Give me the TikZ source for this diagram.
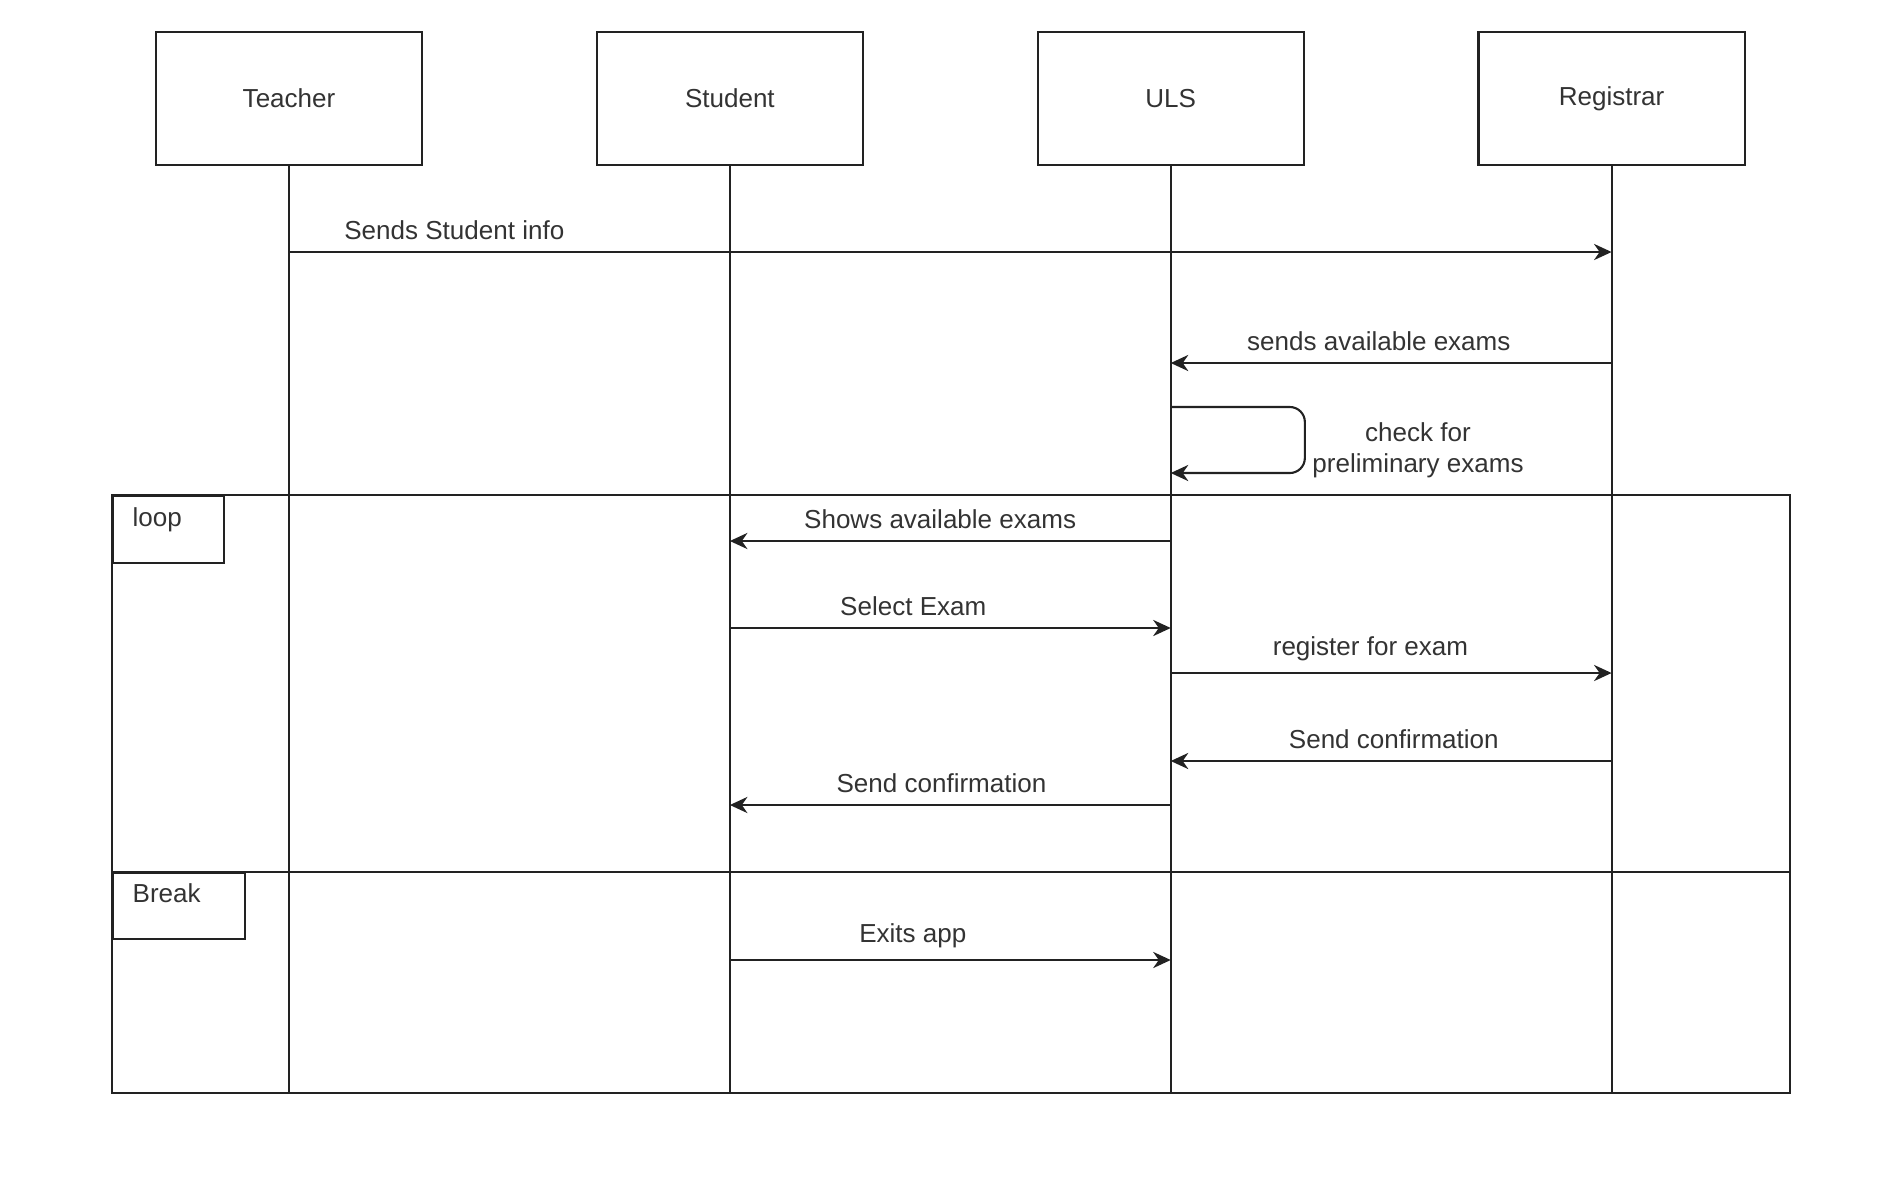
\documentclass[tikz,border=0pt]{standalone}
\usepackage{fontspec}
\setmainfont{Liberation Sans}
\usetikzlibrary{positioning,arrows.meta}

\definecolor{linecol}{HTML}{222222}
\definecolor{textcol}{HTML}{333333}

\tikzset{
  actor/.style={draw=linecol,line width=0.6pt,minimum width=2.66cm,minimum height=1.33cm,inner sep=0pt,text=textcol},
  lifeline/.style={draw=linecol,line width=0.6pt},
  msg/.style={draw=linecol,line width=0.6pt,-{Stealth[length=5pt,width=4.6pt,inset=1.6pt]}},
  msglabel/.style={above,inner sep=3.1pt,text=textcol},
  fragment/.style={draw=linecol,line width=0.6pt},
  tagbox/.style={draw=linecol,line width=0.6pt,anchor=north west,inner sep=0pt},
  taglabel/.style={anchor=north west,inner sep=0pt,text=textcol},
}

\begin{document}
\begin{tikzpicture}[x=0.01cm,y=-0.01cm,font=\fontsize{7.4}{8.8}\selectfont]

  \useasboundingbox (0,0) rectangle (1884,1187);

  % Nodes

  \node[actor] (teacher) at (289,98.5) {Teacher};
  \node[actor,right=1.725cm of teacher] (student) {Student};
  \node[actor,right=1.725cm of student] (uls) {ULS};
  \node[actor,right=1.725cm of uls] (registrar) {Registrar};

  % Frames

  \coordinate (loop_nw) at (112,495);
  \coordinate (loop_se) at (1790,1093);
  \coordinate (brk_w) at (112,872);
  \coordinate (brk_e) at (1790,872);

  \foreach \p in {teacher,student,uls,registrar}
    \draw[lifeline] (\p) -- (\p |- loop_se);

  \draw[fragment] (loop_nw) rectangle (loop_se);
  \draw[fragment] (brk_w) -- (brk_e);

  \node[tagbox,minimum width=1.11cm,minimum height=0.67cm] (looptag) at (loop_nw) {};
  \node[taglabel] at ([shift={(20,12)}]looptag.north west) {loop};
  \node[tagbox,minimum width=1.32cm,minimum height=0.66cm] (brktag) at (brk_w) {};
  \node[taglabel] at ([shift={(20,11)}]brktag.north west) {Break};

  % Messages

  \coordinate (m1) at (0,252);
  \coordinate (m2) at (0,363);
  \coordinate (s1) at (0,407);
  \coordinate (s2) at (0,473);
  \coordinate (m3) at (0,541);
  \coordinate (m4) at (0,628);
  \coordinate (m5) at (0,673);
  \coordinate (m6) at (0,761);
  \coordinate (m7) at (0,805);
  \coordinate (m8) at (0,960);

  \draw[msg] (teacher |- m1) -- node[msglabel,pos=.125] {Sends Student info} (registrar |- m1);
  \draw[msg] (registrar |- m2) -- node[msglabel,pos=.528] {sends available exams} (uls |- m2);
  \draw[msg,rounded corners=0.15cm] (uls |- s1) -- (uls.east |- s1) -- (uls.east |- s2) -- (uls |- s2);
  \node[text=textcol,align=center] (check) at (1418,450) {check for\\preliminary exams};

  \draw[msg] (uls |- m3) -- node[msglabel,pos=.523] {Shows available exams} (student |- m3);
  \draw[msg] (student |- m4) -- node[msglabel,pos=.416] {Select Exam} (uls |- m4);
  \draw[msg] (uls |- m5) -- node[msglabel,pos=.453] {register for exam} (registrar |- m5);
  \draw[msg] (registrar |- m6) -- node[msglabel,pos=.494] {Send confirmation} (uls |- m6);
  \draw[msg] (uls |- m7) -- node[msglabel,pos=.52] {Send confirmation} (student |- m7);

  \draw[msg] (student |- m8) -- node[msglabel,pos=.415] {Exits app} (uls |- m8);

\end{tikzpicture}
\end{document}
